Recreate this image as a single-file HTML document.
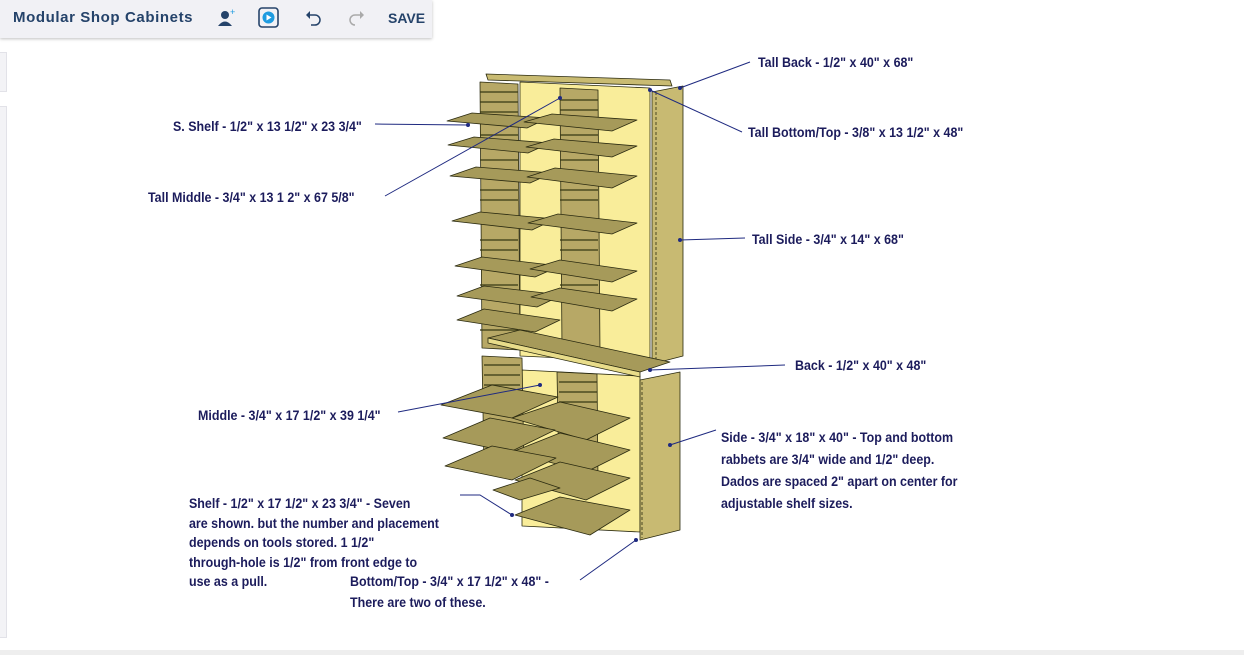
<!DOCTYPE html>
<html><head><meta charset="utf-8"><style>
html,body{margin:0;padding:0;width:1244px;height:655px;background:#fff;overflow:hidden;position:relative;font-family:"Liberation Sans",sans-serif}
.bar{position:absolute;left:0;top:0;width:432px;height:38px;background:#f1f1f5;box-shadow:0 1px 3px rgba(0,0,0,.25);}
.title{position:absolute;left:13px;top:9px;font-size:15px;font-weight:bold;color:#25436a;letter-spacing:.6px}
.save{position:absolute;left:388px;top:10px;font-size:14px;font-weight:bold;color:#25436a}
.lbl{position:absolute;font-weight:bold;font-size:14px;color:#1c1c5c;line-height:22px;white-space:nowrap;transform:scaleX(0.89);transform-origin:0 0}
.side1{position:absolute;left:0;top:52px;width:6px;height:38px;background:#f3f3f6;border:1px solid #e2e2e8;border-left:none}
.side2{position:absolute;left:0;top:106px;width:6px;height:530px;background:#f3f3f6;border:1px solid #e2e2e8;border-left:none}
</style></head><body>
<div class="bar"><div class="title">Modular Shop Cabinets</div>
<svg style="position:absolute;left:216px;top:8px" width="20" height="20"><circle cx="9" cy="7" r="4" fill="#25436a"/><path d="M2 18 Q9 9 16 18Z" fill="#25436a"/><text x="14" y="7" font-size="9" fill="#1e9be0">+</text></svg>
<svg style="position:absolute;left:258px;top:7px" width="22" height="22"><rect x="1" y="1" width="19" height="19" rx="3" fill="none" stroke="#25436a" stroke-width="1.6"/><circle cx="10.5" cy="10.5" r="6" fill="#1e9be0"/><path d="M8.5 7.5 L13.5 10.5 L8.5 13.5Z" fill="#fff"/></svg>
<svg style="position:absolute;left:304px;top:9px" width="20" height="18"><path d="M5 6 H11 A5 5 0 0 1 11 16 H7" fill="none" stroke="#25436a" stroke-width="1.5"/><path d="M2 6 L6 2 L6 10Z" fill="#25436a"/></svg>
<svg style="position:absolute;left:346px;top:9px" width="20" height="18"><path d="M15 6 H9 A5 5 0 0 0 9 16" fill="none" stroke="#aaa" stroke-width="1.5"/><path d="M18 6 L14 2 L14 10Z" fill="#aaa"/></svg>
<div class="save">SAVE</div></div>
<div class="side1"></div><div class="side2"></div>
<div style="position:absolute;left:0;top:650px;width:1244px;height:5px;background:#eee"></div>

<svg style="position:absolute;left:0;top:0" width="1244" height="655">
<g stroke="#2a2a10" stroke-width="0.8" stroke-linejoin="round">
<polygon points="520,82 650,88 650,362 520,356" fill="#f9ed9a"/>
<polygon points="480,82 518,84 520,350 482,348" fill="#b7a866"/>
<polygon points="560,88 598,90 600,352 562,350" fill="#b7a866"/>
<polygon points="486,74 670,80 672,86 488,80" fill="#c9bb72"/>
<polygon points="652,92 683,86 683,356 652,364" fill="#c8ba72"/>
<line x1="656" y1="92" x2="656" y2="362" stroke-dasharray="3,2"/>
<polygon points="522,370 640,376 640,532 522,526" fill="#f9ed9a"/>
<polygon points="482,356 522,358 524,470 484,468" fill="#b7a866"/>
<polygon points="557,372 597,374 598,480 559,478" fill="#b7a866"/>
<polygon points="640,380 680,372 680,530 640,540" fill="#c8ba72"/>
<line x1="642" y1="382" x2="642" y2="538" stroke-dasharray="3,2"/>
<polygon points="488,338 520,330 670,362 640,372" fill="#a69a5a"/>
<polygon points="488,338 640,372 640,377 488,343" fill="#e8dc8a"/>
</g>
<g stroke="#3a3a14" stroke-width="1.4" opacity="0.85">
<path d="M480,92 H518 M480,102 H518 M480,112 H518 M480,135 H518 M480,160 H518 M480,190 H518 M480,200 H518 M480,240 H518 M480,250 H518 M480,285 H518 M480,330 H518 M560,100 H598 M560,110 H598 M560,135 H598 M560,160 H598 M560,190 H598 M560,200 H598 M560,240 H598 M560,250 H598 M560,285 H598 M560,300 H598 M484,365 H520 M484,375 H520 M484,385 H520 M484,395 H520 M559,382 H597 M559,392 H597 M559,402 H597 M559,412 H597"/>
</g>
<g stroke="#2a2a10" stroke-width="0.8" fill="#a69a5a" stroke-linejoin="round">
<polygon points="447,121 472,113 548,118 527,128"/><polygon points="524,122 552,114 637,120 612,131"/>
<polygon points="448,145 474,137 550,143 528,153"/><polygon points="526,147 554,139 637,146 612,157"/>
<polygon points="450,176 476,167 552,173 530,183"/><polygon points="527,177 555,168 637,176 612,188"/>
<polygon points="452,221 480,212 555,219 532,230"/><polygon points="528,223 558,214 637,223 612,234"/>
<polygon points="455,266 482,257 560,266 535,277"/><polygon points="530,269 560,260 637,271 612,282"/>
<polygon points="457,296 484,286 562,295 537,307"/><polygon points="531,297 560,288 637,299 612,311"/>
<polygon points="457,320 484,309 560,320 535,332"/>
<polygon points="441,405 492,385 558,397 512,418"/><polygon points="512,418 560,402 630,418 586,440"/>
<polygon points="443,438 490,418 555,430 510,452"/><polygon points="512,452 560,433 630,450 586,472"/>
<polygon points="445,466 492,446 556,458 512,480"/><polygon points="515,480 560,462 630,478 586,500"/>
<polygon points="493,490 530,478 560,488 520,500"/>
<polygon points="515,515 560,497 630,510 590,535"/>
</g>
<g stroke="#1f2a80" stroke-width="1" fill="none">
<path d="M375,124 L468,125 M385,196 L560,98 M750,62 L680,88 M742,132 L650,90 M745,238 L680,240 M785,365 L650,370 M398,412 L540,385 M716,430 L670,445 M460,495 L480,495 L512,515 M580,580 L636,540"/>
</g>
<g fill="#1f2a80"><circle cx="468" cy="125" r="2"/><circle cx="560" cy="98" r="2"/><circle cx="680" cy="88" r="2"/><circle cx="650" cy="90" r="2"/><circle cx="680" cy="240" r="2"/><circle cx="650" cy="370" r="2"/><circle cx="540" cy="385" r="2"/><circle cx="670" cy="445" r="2"/><circle cx="512" cy="515" r="2"/><circle cx="636" cy="540" r="2"/></g>
</svg>

<div class="lbl" style="left:173px;top:115px">S. Shelf - 1/2" x 13 1/2" x 23 3/4"</div>
<div class="lbl" style="left:148px;top:186px">Tall Middle - 3/4" x 13 1 2" x 67 5/8"</div>
<div class="lbl" style="left:758px;top:51px">Tall Back - 1/2" x 40" x 68"</div>
<div class="lbl" style="left:748px;top:121px">Tall Bottom/Top - 3/8" x 13 1/2" x 48"</div>
<div class="lbl" style="left:752px;top:228px">Tall Side - 3/4" x 14" x 68"</div>
<div class="lbl" style="left:795px;top:354px">Back - 1/2" x 40" x 48"</div>
<div class="lbl" style="left:198px;top:404px">Middle - 3/4" x 17 1/2" x 39 1/4"</div>
<div class="lbl" style="left:721px;top:426px">Side - 3/4" x 18" x 40" - Top and bottom<br>rabbets are 3/4" wide and 1/2" deep.<br>Dados are spaced 2" apart on center for<br>adjustable shelf sizes.</div>
<div class="lbl" style="left:189px;top:494px;line-height:19.5px">Shelf - 1/2" x 17 1/2" x 23 3/4" - Seven<br>are shown. but the number and placement<br>depends on tools stored. 1 1/2"<br>through-hole is 1/2" from front edge to<br>use as a pull.</div>
<div class="lbl" style="left:350px;top:571px;line-height:21px">Bottom/Top - 3/4" x 17 1/2" x 48" -<br>There are two of these.</div>
</body></html>
